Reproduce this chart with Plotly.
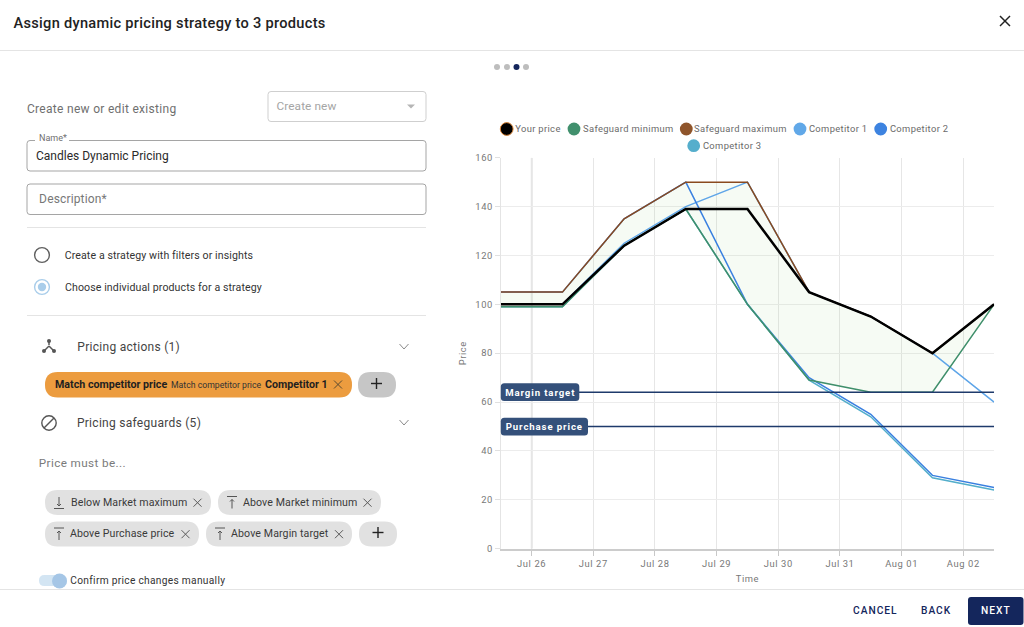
import plotly.graph_objects as go

# ---------- chart data ----------
dates = ["2024-07-25 12:00", "2024-07-26 12:00", "2024-07-27 12:00", "2024-07-28 12:00", "2024-07-29 12:00",
         "2024-07-30 12:00", "2024-07-31 12:00", "2024-08-01 12:00", "2024-08-02 12:00"]
your_price = [100, 100, 124, 139, 139, 105, 95, 80, 100]
safeguard_min = [99, 99, 124, 139, 100, 69, 64, 64, 100]
safeguard_max = [105, 105, 135, 150, 150, 105, 95, 80, 100]
competitor_1 = [100, 100, 125, 140, 150, 105, 95, 80, 60]
competitor_2 = [105, 105, 135, 150, 100, 70, 55, 30, 25]
competitor_3 = [99, 99, 124, 139, 100, 69, 54, 29, 24]
margin_target = [64, 64, 64, 64, 64, 64, 64, 64, 64]
purchase_price = [50, 50, 50, 50, 50, 50, 50, 50, 50]
today_marker = "2024-07-26"

W, H = 1024, 627
PX = lambda x: x / W
PY = lambda y: 1 - y / H
NAVY = "#14265c"
UI_TXT = "#3c3c3c"

fig = go.Figure()
common = dict(x=dates, mode="lines", hoverinfo="skip", showlegend=False)
fig.add_trace(go.Scatter(y=safeguard_max, line=dict(width=0), **common))
fig.add_trace(go.Scatter(y=safeguard_min, line=dict(width=0), fill="tonexty", fillcolor="rgba(145,204,117,0.08)", **common))
series = [("Competitor 1", competitor_1, "#5ea5e8", 1.5), ("Competitor 2", competitor_2, "#3a80e0", 1.5),
          ("Competitor 3", competitor_3, "#53aecb", 1.5), ("Safeguard minimum", safeguard_min, "#3f8f6b", 1.5),
          ("Safeguard maximum", safeguard_max, "#8a4a1e", 1.5), ("Margin target", margin_target, "#1e3a6b", 1.5),
          ("Purchase price", purchase_price, "#1e3a6b", 1.5), ("Your price", your_price, "#000000", 2.5)]
for name, vals, col, w in series:
    fig.add_trace(go.Scatter(x=dates, y=vals, name=name, mode="lines", line=dict(color=col, width=w),
                             showlegend=False, hoverinfo="name+y"))

shapes, annos, spaced = [], [], []

def rrect(x0, y0, x1, y1, r=3, fill="rgba(0,0,0,0)", line=None, lw=1, layer="above"):
    a, b, c, d = PX(x0), PY(y0), PX(x1), PY(y1)
    rx, ry = r / W, r / H
    p = (f"M {a+rx} {b} L {c-rx} {b} Q {c} {b} {c} {b-ry} L {c} {d+ry} Q {c} {d} {c-rx} {d} "
         f"L {a+rx} {d} Q {a} {d} {a} {d+ry} L {a} {b-ry} Q {a} {b} {a+rx} {b} Z")
    shapes.append(dict(type="path", path=p, xref="paper", yref="paper", fillcolor=fill, layer=layer,
                       line=dict(color=line or "rgba(0,0,0,0)", width=lw if line else 0)))

def seg(x0, y0, x1, y1, col="#e4e4e4", lw=1):
    shapes.append(dict(type="line", xref="paper", yref="paper", x0=PX(x0), y0=PY(y0), x1=PX(x1), y1=PY(y1),
                       line=dict(color=col, width=lw)))

def circ(cx, cy, r, fill="rgba(0,0,0,0)", line=None, lw=1):
    shapes.append(dict(type="circle", xref="paper", yref="paper", x0=PX(cx-r), y0=PY(cy+r), x1=PX(cx+r), y1=PY(cy-r),
                       fillcolor=fill, line=dict(color=line or "rgba(0,0,0,0)", width=lw if line else 0)))

def T(x, y, s, size=11, col=UI_TXT, anchor="left", weight=400, ls=None, font="Roboto"):
    annos.append(dict(x=PX(x), y=PY(y), xref="paper", yref="paper", text=s, showarrow=False, xanchor=anchor, yanchor="middle",
                      borderpad=0, borderwidth=0, font=dict(family=font, size=size, color=col, weight=weight)))
    if ls:
        spaced.append((len(annos) - 1, ls))

def cross(cx, cy, r=4, col="#5a5a5a", lw=1):
    seg(cx-r, cy-r, cx+r, cy+r, col, lw)
    seg(cx-r, cy+r, cx+r, cy-r, col, lw)

def plus(cx, cy, r=5.5, col="#222222", lw=1.4):
    seg(cx-r, cy, cx+r, cy, col, lw)
    seg(cx, cy-r, cx, cy+r, col, lw)

def chevron(cx, cy):
    seg(cx-4.5, cy-2.5, cx, cy+2.5, "#8a8a8a", 1)
    seg(cx, cy+2.5, cx+4.5, cy-2.5, "#8a8a8a", 1)

# --- dialog chrome ---
T(169, 23, "Assign dynamic pricing strategy to 3 products", 14.6, "#222222", "center", 500, 0.29)
cross(1005, 21, 5, "#222222", 1.5)
seg(0, 50.5, 1024, 50.5)
seg(0, 589.5, 1024, 589.5)
for cx, c in zip((497, 507, 516.5, 526), ("#bdbdbd", "#bdbdbd", NAVY, "#bdbdbd")):
    circ(cx, 67, 3, c)

# --- form ---
T(101.5, 109.5, "Create new or edit existing", 12, "#6f6f6f", "center", 400, 0.3)
rrect(268, 91.5, 426, 121.5, 3, line="#cfcfcf")
T(306, 106.5, "Create new", 11.8, "#a5a5a5", "center", 400, 0.1)
shapes.append(dict(type="path", xref="paper", yref="paper", fillcolor="#b5b5b5", line=dict(width=0),
                   path=f"M {PX(407)} {PY(104.5)} L {PX(415)} {PY(104.5)} L {PX(411)} {PY(108.5)} Z"))
rrect(27, 140.5, 426, 171, 3, line="#a5a5a5")
rrect(35, 134, 69, 142, 0, fill="#ffffff")
T(38.5, 137.5, "Name*", 9, "#6f6f6f")
T(36, 156, "Candles Dynamic Pricing", 12, "#2a2a2a")
rrect(27, 184, 426, 214.5, 3, line="#a5a5a5")
T(73.2, 199, "Description*", 12, "#777777", "center", 400, 0.15)
seg(27, 227.5, 426, 227.5)
seg(27, 315.5, 426, 315.5)
circ(42, 255, 7.4, line="#5f5f5f", lw=1.4)
T(159, 255, "Create a strategy with filters or insights", 10.6, "#333333", "center", 400, 0.1)
circ(42, 287, 7.4, line="#a9cdea", lw=1.4)
circ(42, 287, 4.2, "#a9cdea")
T(163.5, 287, "Choose individual products for a strategy", 10.6, "#333333", "center", 400, 0.1)

# --- pricing actions ---
seg(49, 345, 49, 341, "#555555", 1.5); seg(49, 346, 44, 351, "#555555", 1.5); seg(49, 346, 54, 351, "#555555", 1.5)
circ(49, 341, 2, "#555555"); circ(44, 351, 2, "#555555"); circ(54, 351, 2, "#555555")
T(128, 347, "Pricing actions (1)", 12, "#444444", "center", 400, 0.28)
chevron(404, 346.5)
rrect(45, 372, 352, 397.5, 12.7, fill="#ec9c3f")
T(54.5, 384, "Match competitor price", 10.7, "#1f1f1f", weight=700)
T(171, 384.5, "Match competitor price", 8.7, "#333333")
T(264.5, 384, "Competitor 1", 10.7, "#1f1f1f", weight=700)
cross(338, 384.5, 4, "#5a4a30")
rrect(358, 372, 396, 397.5, 12.7, fill="#c6c6c6")
plus(376.5, 383.5)

# --- safeguards ---
circ(49, 423, 7.2, line="#555555", lw=1.4)
seg(44, 428, 54, 418, "#555555", 1.4)
T(139, 423, "Pricing safeguards (5)", 12, "#444444", "center", 400, 0.28)
chevron(404, 422.5)
T(82.5, 462.5, "Price must be...", 11.7, "#7a7a7a", "center", 400, 0.4)

chips = [(45, 211, 490, "Below Market maximum", 128.7, 197.5, "down"),
         (218, 381, 490, "Above Market minimum", 300, 367.5, "up"),
         (45, 199, 521.5, "Above Purchase price", 122.7, 185.5, "up"),
         (206, 352, 521.5, "Above Margin target", 279.5, 339, "up")]
for x0, x1, y0, s, tx, xx, kind in chips:
    rrect(x0, y0, x1, y0 + 25, 12.5, fill="#e1e1e1")
    T(tx, y0 + 12.3, s, 10.6, "#3a3a3a", "center", 400, 0.1)
    cross(xx, y0 + 12.7, 4, "#5a5a5a")
    ix = x0 + 14
    if kind == "down":
        seg(ix - 5, y0 + 18.5, ix + 5, y0 + 18.5, "#555555", 1)
        seg(ix, y0 + 7, ix, y0 + 16, "#555555", 1)
        seg(ix - 2, y0 + 14, ix, y0 + 16, "#555555", 1); seg(ix + 2, y0 + 14, ix, y0 + 16, "#555555", 1)
    else:
        seg(ix - 5, y0 + 6.5, ix + 5, y0 + 6.5, "#555555", 1)
        seg(ix, y0 + 9.5, ix, y0 + 18.5, "#555555", 1)
        seg(ix - 2, y0 + 11.5, ix, y0 + 9.5, "#555555", 1); seg(ix + 2, y0 + 11.5, ix, y0 + 9.5, "#555555", 1)
rrect(359, 521.5, 397, 546.5, 12.5, fill="#e1e1e1")
plus(378, 532.5)
rrect(39, 575, 67, 586, 5.5, fill="#d3e5f3")
circ(59.5, 581, 7.5, "#a5c6e6")
T(148, 580.5, "Confirm price changes manually", 10.2, "#333333", "center", 400, 0.3)

# --- footer ---
T(875.5, 610.5, "CANCEL", 10.2, NAVY, "center", 500, 1)
T(936, 610.5, "BACK", 10.2, NAVY, "center", 500, 1)
rrect(968, 597, 1023.5, 625, 3, fill=NAVY)
T(995.5, 610.5, "NEXT", 10.2, "#ffffff", "center", 500, 1)

# --- legend ---
legend_items = [("Your price", 506.7, 129, 538, "#000000", "#e08a3c"),
                ("Safeguard minimum", 574, 129, 628, "#41906d", None),
                ("Safeguard maximum", 686.3, 129, 740, "#8f552b", None),
                ("Competitor 1", 800, 129, 838, "#61a8e8", None),
                ("Competitor 2", 880.7, 129, 918.5, "#3d83e0", None),
                ("Competitor 3", 693.7, 145.7, 731.5, "#55aecc", None)]
for name, cx, cy, tx, col, edge in legend_items:
    circ(cx, cy, 6.4, col, line=edge, lw=1)
    T(tx, cy - 0.3, name, 9.4, "#6a6a6a", "center", 400, 0.35)

# --- target labels ---
rrect(500.8, 383.3, 579.3, 401, 3.5, fill="#34507a")
T(540, 392.2, "Margin target", 9.6, "#ffffff", "center", 700, 0.9)
rrect(500.8, 417.8, 588, 435.5, 3.5, fill="#34507a")
T(544.4, 426.7, "Purchase price", 9.6, "#ffffff", "center", 700, 0.9)

shapes.append(dict(type="line", xref="x", yref="y", x0=today_marker, x1=today_marker, y0=0, y1=160, layer="below",
                   line=dict(color="#c8c8c8", width=1.5)))

axis_font = dict(family="Roboto", size=9.4, color="#777777")
fig.update_layout(
    width=W, height=H, margin=dict(l=0, r=0, t=0, b=0), paper_bgcolor="#ffffff", plot_bgcolor="#ffffff",
    showlegend=False, shapes=shapes, annotations=annos,
    xaxis=dict(domain=[PX(500.8), PX(994.1)], range=[dates[0], dates[-1]], type="date", tick0="2024-07-26", dtick=86400000,
               tickformat="%b %d", ticks="outside", ticklen=5, tickcolor="#c8c8c8", showgrid=True, gridcolor="#e6e6e6",
               gridwidth=1, showline=True, linecolor="#cccccc", linewidth=2, tickfont=axis_font,
               title=dict(text="Time", font=axis_font, standoff=7), automargin=False, zeroline=False),
    yaxis=dict(domain=[PY(548.7), PY(157.7)], range=[0, 160], dtick=20, ticks="outside", ticklen=5, tickcolor="#e0e0e0",
               showgrid=True, gridcolor="#ececec", gridwidth=1, showline=True, linecolor="#e4e4e4", linewidth=1, tickfont=axis_font,
               title=dict(text="Price", font=axis_font, standoff=8), automargin=False, zeroline=False),
)

css = ["body{margin:0;overflow:hidden}", ".xtick text,.ytick text,.g-xtitle text,.g-ytitle text{letter-spacing:.6px}"]
for i, ls in spaced:
    css.append(f'.annotation[data-index="{i}"] text{{letter-spacing:{ls}px}}')
post = "var s=document.createElement('style');s.textContent=" + repr("".join(css)) + ";document.head.appendChild(s);"
fig.write_html("out.html", post_script=post, config=dict(displayModeBar=False))
